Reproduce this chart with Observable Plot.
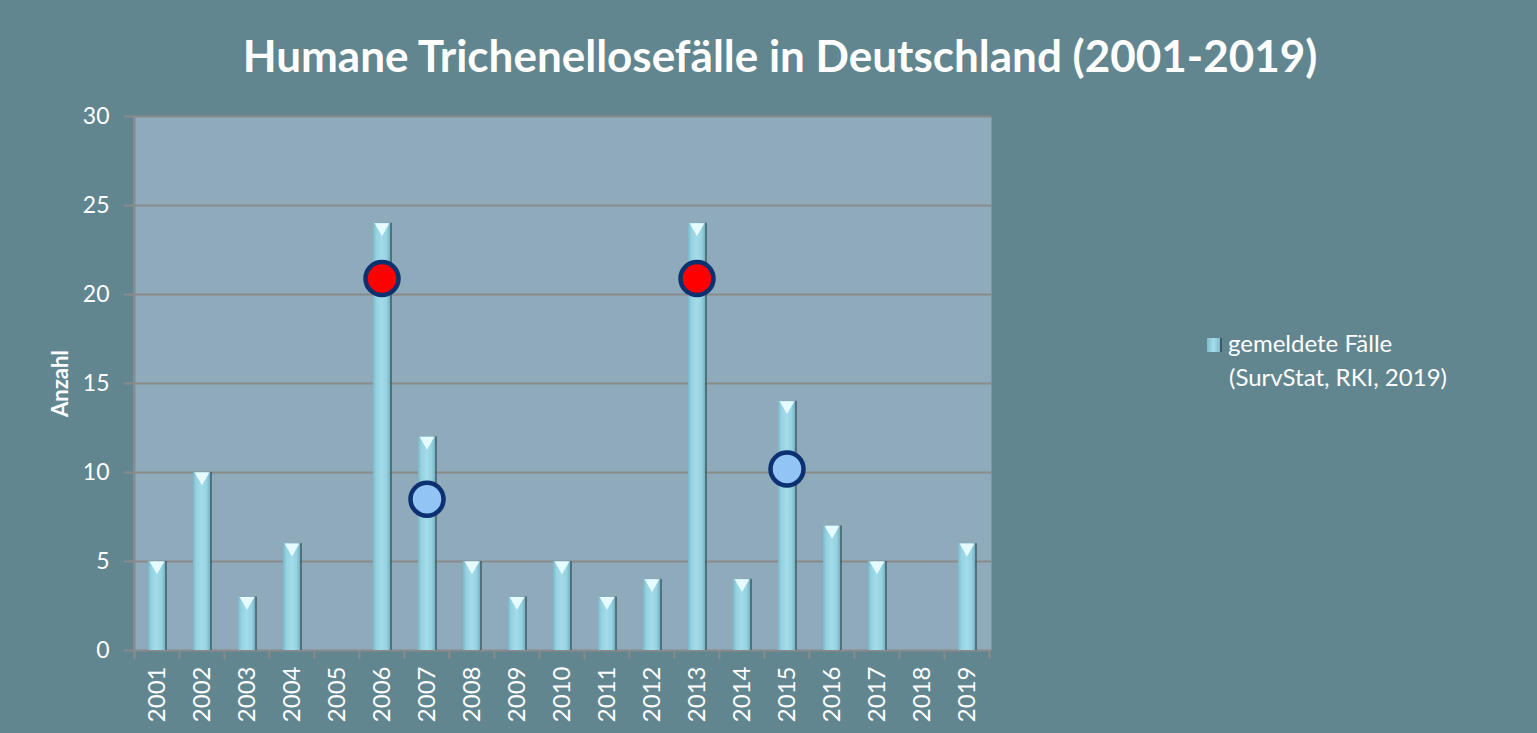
<!DOCTYPE html>
<html><head><meta charset="utf-8">
<script src="https://cdn.jsdelivr.net/npm/d3@7"></script>
<script src="https://cdn.jsdelivr.net/npm/@observablehq/plot@0.6"></script>
<style>
html,body{margin:0;padding:0;background:#62868f;}
#wrap{position:relative;width:1537px;height:733px;background:#62868f;overflow:hidden;font-family:Lato,"Open Sans",sans-serif;}
#title{position:absolute;left:0;top:27px;width:1560px;text-align:center;color:#fff;font-weight:bold;font-size:44px;line-height:56px;}
#legend{position:absolute;left:1207px;top:326px;color:#fff;font-size:24px;line-height:34px;}
#legend .sw{display:inline-block;width:13px;height:14px;vertical-align:0px;margin-right:6px;background:linear-gradient(90deg,#7fbccb,#a6dcea,#7fbccb);border-right:2px solid #3c5a64;position:relative;}
#legend .ind{padding-left:22px;}
</style></head>
<body><div id="wrap"><div id="title">Humane Trichenellosefälle in Deutschland (2001-2019)</div>
<div id="legend"><div><span class="sw"></span>gemeldete Fälle</div><div class="ind">(SurvStat, RKI, 2019)</div></div>
</div>
<script>
const years = ["2001","2002","2003","2004","2005","2006","2007","2008","2009","2010","2011","2012","2013","2014","2015","2016","2017","2018","2019"];
const cases = [5,10,3,6,0,24,12,5,3,5,3,4,24,4,14,7,5,0,6];
const outbreakYears = ["2006","2007","2013","2015"];
const outbreakValues = [20.9,8.5,20.9,10.2];
const outbreakColors = ["#ff0000","#92c5f5","#ff0000","#92c5f5"];
const yTicks = [0,5,10,15,20,25,30];
const yLabel = "Anzahl";

const bars = years.map((y,i)=>({year:y,value:cases[i]}));
const nonzero = bars.filter(d=>d.value>0);
const dots = outbreakYears.map((y,i)=>({year:y,value:outbreakValues[i],color:outbreakColors[i]}));

const W=1537,H=733,ML=133,MR=546,MT=116,MB=83;
const step=(W-ML-MR)/years.length;
const grid="#8a8a8a";

const plot = Plot.plot({
  width:W,height:H,marginLeft:ML,marginRight:MR,marginTop:MT,marginBottom:MB,
  style:{background:"transparent",color:"#ffffff",fontFamily:"Lato, 'Open Sans', sans-serif"},
  x:{type:"band",domain:years,paddingInner:0.62,paddingOuter:0.31},
  y:{domain:[0,30]},
  marks:[
    Plot.frame({fill:"#8eaabb",stroke:null}),
    Plot.gridY(yTicks,{stroke:grid,strokeOpacity:1,strokeWidth:2}),
    Plot.ruleX(years,{dx:-step/2,insetTop:H-MT-MB,insetBottom:-9,stroke:grid,strokeWidth:2}),
    Plot.ruleX([years[years.length-1]],{dx:step/2,insetTop:H-MT-MB,insetBottom:-9,stroke:grid,strokeWidth:2}),
    Plot.ruleX([years[0]],{dx:-step/2,insetBottom:-9,stroke:grid,strokeWidth:2}),
    Plot.axisY(yTicks,{tickSize:9,tickPadding:15,stroke:grid,strokeWidth:2,fontSize:23,color:"#fff",label:null}),
    Plot.axisX({tickSize:0,tickPadding:16,tickRotate:-90,fontSize:24,label:null}),
    Plot.barY(nonzero,{x:"year",y:"value",dx:2,fill:"#3a5862",fillOpacity:0.7}),
    Plot.barY(nonzero,{x:"year",y:"value",fill:"url(#barGrad)"}),
    Plot.dot(nonzero,{x:"year",y:"value",symbol:"triangle",rotate:180,r:5.5,dy:4.2,fill:"#e6fbff",stroke:null}),
    Plot.dot(dots,{x:"year",y:"value",r:16.5,fill:"color",stroke:"#0c3170",strokeWidth:4.5}),
    Plot.text([yLabel],{frameAnchor:"left",dx:-73,rotate:-90,textAnchor:"middle",fontSize:22,fontWeight:"bold",fill:"#fff"})
  ]
});
const defs = d3.create("svg:defs");
const g = defs.append("linearGradient").attr("id","barGrad").attr("x1","0").attr("x2","1").attr("y1","0").attr("y2","0");
[[0,"#78b9c9"],[0.2,"#96d2e1"],[0.5,"#a3dbe9"],[0.8,"#96d2e1"],[1,"#74b3c3"]].forEach(([o,c])=>g.append("stop").attr("offset",o).attr("stop-color",c));
plot.insertBefore(defs.node(),plot.firstChild);
plot.style.position="absolute";plot.style.left="0";plot.style.top="0";
document.getElementById("wrap").insertBefore(plot,document.getElementById("wrap").firstChild);
</script></body></html>
